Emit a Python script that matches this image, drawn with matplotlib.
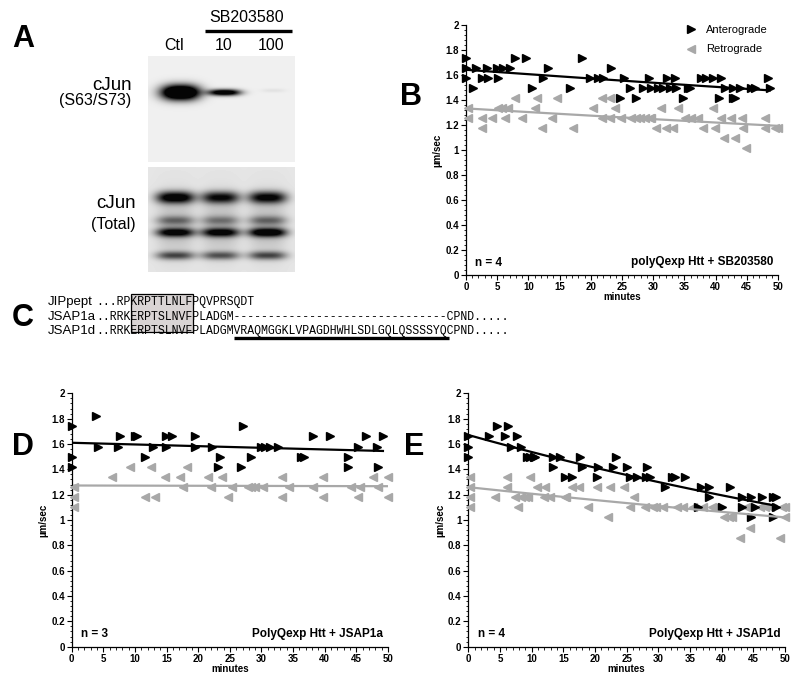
import numpy as np
import matplotlib
matplotlib.use("Agg")
import matplotlib.pyplot as plt
from matplotlib.lines import Line2D
from matplotlib.patches import Rectangle
from matplotlib.ticker import MultipleLocator

plt.rcParams["font.family"] = ["Liberation Sans", "DejaVu Sans"]

W, H = 800, 680
ANT_COLOR = "black"
RET_COLOR = "#a8a8a8"

# ---- panel A: western blot band intensities (lanes: Ctl, 10, 100)
BLOT_LANES = ["Ctl", "10", "100"]
PHOSPHO_BANDS = [1.8, 1.3, 0.06]
TOTAL_BANDS = {
    "top": [0.95, 0.8, 0.85],
    "faint": [0.35, 0.3, 0.35],
    "mid": [0.85, 0.85, 0.95],
    "low": [0.55, 0.5, 0.55],
}

# ---- panel C: sequence alignment
SEQ_NAMES = ["JIPpept", "JSAP1a", "JSAP1d"]
SEQ_ROWS = [
    "...RPKRPTTLNLFPQVPRSQDT",
    "..RRKERPTSLNVFPLADGM-------------------------------CPND.....",
    "..RRKERPTSLNVFPLADGMVRAQMGGKLVPAGDHWHLSDLGQLQSSSSYQCPND.....",
]

# ---- panel B: polyQexp Htt + SB203580
B_ANT_T = [0, 0, 0, 1.2, 1.6, 2.5, 3.4, 3.5, 5.0, 5.1, 6.0, 7.0, 7.9, 9.6, 10.6,
           12.4, 13.2, 16.7, 18.6, 19.9, 21.2, 22.0, 23.3, 24.7, 25.3, 26.3, 27.2,
           28.3, 29.4, 29.6, 30.8, 31.6, 32.2, 33.5, 33.6, 34.8, 35.6, 35.9, 37.7,
           38.5, 39.6, 40.6, 40.9, 41.5, 42.8, 43.1, 42.8, 43.9, 45.7, 46.3, 48.4,
           48.7, 32.7]
B_ANT_V = [1.74, 1.66, 1.58, 1.50, 1.66, 1.58, 1.66, 1.58, 1.66, 1.58, 1.66, 1.66,
           1.74, 1.74, 1.50, 1.58, 1.66, 1.50, 1.74, 1.58, 1.58, 1.58, 1.66, 1.42,
           1.58, 1.50, 1.42, 1.50, 1.58, 1.50, 1.50, 1.50, 1.58, 1.58, 1.50, 1.42,
           1.50, 1.50, 1.58, 1.58, 1.58, 1.42, 1.58, 1.50, 1.42, 1.42, 1.50, 1.50,
           1.50, 1.50, 1.58, 1.50, 1.50]
B_RET_T = [0.4, 0.4, 2.6, 2.6, 4.2, 5.2, 5.8, 6.3, 6.8, 7.8, 9.0, 11.1, 11.4, 12.2,
           13.8, 14.6, 17.2, 20.4, 21.8, 21.8, 23.0, 23.1, 23.9, 24.9, 26.5, 27.3,
           27.9, 28.7, 29.5, 29.7, 30.5, 31.2, 32.1, 33.2, 33.9, 35.1, 36.1, 37.2,
           38.0, 39.6, 39.9, 40.9, 41.3, 42.4, 43.1, 44.3, 44.4, 44.8, 47.9, 47.9,
           49.5, 50.0]
B_RET_V = [1.34, 1.26, 1.26, 1.18, 1.26, 1.34, 1.34, 1.26, 1.34, 1.42, 1.26, 1.34,
           1.42, 1.18, 1.26, 1.42, 1.18, 1.34, 1.42, 1.26, 1.26, 1.42, 1.34, 1.26,
           1.26, 1.26, 1.26, 1.26, 1.26, 1.26, 1.18, 1.34, 1.18, 1.18, 1.34, 1.26,
           1.26, 1.26, 1.18, 1.34, 1.18, 1.26, 1.10, 1.26, 1.10, 1.26, 1.18, 1.02,
           1.26, 1.18, 1.18, 1.18]

# ---- panel D: PolyQexp Htt + JSAP1a
D_ANT_T = [0, 0, 0, 3.9, 4.2, 7.3, 7.6, 10.0, 10.4, 11.6, 12.8, 14.9, 14.9, 15.8,
           19.5, 19.5, 22.2, 23.4, 23.2, 27.1, 26.8, 28.4, 30.0, 30.5, 31.3, 32.6,
           36.3, 36.8, 38.2, 40.8, 43.7, 43.7, 45.3, 46.6, 48.2, 48.4, 49.2]
D_ANT_V = [1.74, 1.50, 1.42, 1.82, 1.58, 1.58, 1.66, 1.66, 1.66, 1.50, 1.58, 1.66,
           1.58, 1.66, 1.66, 1.58, 1.58, 1.50, 1.42, 1.74, 1.42, 1.50, 1.58, 1.58,
           1.58, 1.58, 1.50, 1.50, 1.66, 1.66, 1.50, 1.42, 1.58, 1.66, 1.58, 1.42,
           1.66]
D_RET_T = [0.4, 0.4, 0.4, 6.3, 9.2, 11.6, 12.6, 13.2, 14.7, 17.1, 17.6, 18.2, 21.6,
           22.0, 23.7, 24.7, 25.3, 27.9, 28.4, 28.9, 30.3, 33.3, 33.3, 34.4, 38.2,
           39.7, 39.7, 44.2, 45.3, 45.5, 47.6, 48.4, 50.0, 50.0]
D_RET_V = [1.26, 1.18, 1.10, 1.34, 1.42, 1.18, 1.42, 1.18, 1.34, 1.34, 1.26, 1.42,
           1.34, 1.26, 1.34, 1.18, 1.26, 1.26, 1.26, 1.26, 1.26, 1.34, 1.18, 1.26,
           1.26, 1.34, 1.18, 1.26, 1.18, 1.26, 1.34, 1.26, 1.34, 1.18]

# ---- panel E: PolyQexp Htt + JSAP1d
E_ANT_T = [0, 0, 0, 3.3, 4.6, 5.8, 6.3, 6.8, 7.7, 8.3, 9.2, 9.7, 10.3, 10.6, 13.3,
           13.3, 14.5, 15.3, 16.3, 17.6, 17.9, 20.3, 20.4, 22.9, 23.3, 25.0, 25.5,
           26.6, 28.1, 28.2, 28.7, 31.1, 32.1, 32.6, 34.2, 36.8, 38.0, 38.0, 36.3,
           41.3, 40.0, 43.2, 44.7, 46.3, 48.1, 48.6, 44.7, 48.1, 45.3, 48.6, 43.2]
E_ANT_V = [1.66, 1.58, 1.50, 1.66, 1.74, 1.66, 1.74, 1.58, 1.66, 1.58, 1.50, 1.50,
           1.50, 1.50, 1.42, 1.50, 1.50, 1.34, 1.34, 1.50, 1.42, 1.34, 1.42, 1.42,
           1.50, 1.42, 1.34, 1.34, 1.34, 1.42, 1.34, 1.26, 1.34, 1.34, 1.34, 1.26,
           1.26, 1.18, 1.10, 1.26, 1.10, 1.18, 1.18, 1.18, 1.18, 1.18, 1.02, 1.02,
           1.10, 1.10, 1.10]
E_RET_T = [0.3, 0.3, 0.3, 0.3, 4.2, 6.1, 6.1, 7.4, 7.9, 8.3, 8.9, 9.5, 9.7, 10.8,
           11.9, 12.1, 12.9, 15.3, 15.5, 16.3, 17.4, 18.9, 20.3, 22.1, 22.4, 24.6,
           25.5, 26.1, 27.9, 29.2, 29.7, 30.8, 32.9, 33.9, 35.5, 37.1, 38.4, 38.9,
           40.3, 41.1, 41.6, 42.9, 44.5, 43.9, 46.1, 46.8, 47.6, 49.2, 49.5, 50.0,
           50.0]
E_RET_V = [1.34, 1.26, 1.18, 1.10, 1.18, 1.34, 1.26, 1.18, 1.10, 1.18, 1.18, 1.18,
           1.34, 1.26, 1.18, 1.26, 1.18, 1.18, 1.18, 1.26, 1.26, 1.10, 1.26, 1.02,
           1.26, 1.26, 1.10, 1.18, 1.10, 1.10, 1.10, 1.10, 1.10, 1.10, 1.10, 1.10,
           1.10, 1.10, 1.02, 1.02, 1.02, 0.86, 0.94, 1.10, 1.10, 1.10, 1.10, 0.86,
           1.10, 1.02, 1.10]


def px_axes(fig, x0, y0, x1, y1):
    # pixel box (y downwards) -> figure axes
    return fig.add_axes([x0 / W, 1 - y1 / H, (x1 - x0) / W, (y1 - y0) / H])


def exp_fit(t, v):
    t = np.asarray(t, float)
    k, b = np.polyfit(t, np.log(v), 1)
    tt = np.linspace(t.min(), t.max(), 100)
    return tt, np.exp(b + k * tt)


def band(xx, yy, cx, cy, wx, wy, px=2.5):
    return np.exp(-(np.abs(xx - cx) / wx) ** px - ((yy - cy) / wy) ** 2)


def scatter_panel(ax, ant_t, ant_v, ret_t, ret_v, n_text, title, legend=False):
    ax.plot(ret_t, ret_v, ls="none", marker="<", ms=6, color=RET_COLOR,
            mec=RET_COLOR, clip_on=False, zorder=3)
    ax.plot(ant_t, ant_v, ls="none", marker=">", ms=6, color=ANT_COLOR,
            clip_on=False, zorder=3)
    for t, v, c in ((ant_t, ant_v, ANT_COLOR), (ret_t, ret_v, RET_COLOR)):
        tt, vv = exp_fit(t, v)
        ax.plot(tt, vv, color=c, lw=1.6, zorder=4)

    ax.set_xlim(0, 50)
    ax.set_ylim(0, 2)
    for s in ("top", "right"):
        ax.spines[s].set_visible(False)
    for s in ("left", "bottom"):
        ax.spines[s].set_linewidth(0.9)
    xt = np.arange(0, 51, 5)
    yt = np.arange(0, 2.01, 0.2)
    ax.set_xticks(xt)
    ax.set_xticklabels([f"{x:g}" for x in xt], fontweight="bold", fontsize=7)
    ax.set_yticks(yt)
    ax.set_yticklabels([f"{y:g}" for y in np.round(yt, 1)], fontweight="bold",
                       fontsize=7)
    ax.xaxis.set_minor_locator(MultipleLocator(1))
    ax.yaxis.set_minor_locator(MultipleLocator(0.04))
    ax.tick_params(which="major", direction="out", length=3.5, width=0.8, pad=1.5)
    ax.tick_params(which="minor", direction="out", length=1.8, width=0.6)
    ax.set_xlabel("minutes", fontweight="bold", fontsize=7, labelpad=0)
    ax.set_ylabel("\u00b5m/sec", fontweight="bold", fontsize=7, labelpad=2)
    ax.text(0.03, 0.05, n_text, transform=ax.transAxes, fontsize=8.5,
            fontweight="bold", va="center", ha="left")
    ax.text(0.985, 0.05, title, transform=ax.transAxes, fontsize=8.5,
            fontweight="bold", va="center", ha="right")
    if legend:
        handles = [
            Line2D([], [], ls="none", marker=">", ms=6, color=ANT_COLOR),
            Line2D([], [], ls="none", marker="<", ms=6, color=RET_COLOR),
        ]
        ax.legend(handles, ["Anterograde", "Retrograde"], loc="upper right",
                  bbox_to_anchor=(1.0, 1.04), frameon=False, fontsize=8,
                  handlelength=1.0, handletextpad=0.9, labelspacing=0.85)


fig = plt.figure(figsize=(W / 100, H / 100), dpi=100)

# overlay in pixel coordinates for the free text
ov = fig.add_axes([0, 0, 1, 1])
ov.set_xlim(0, W)
ov.set_ylim(H, 0)
ov.axis("off")

# ---- panel A
ov.text(12, 39, "A", fontsize=22, fontweight="bold", va="center", ha="left")
ov.text(247, 18, "SB203580", fontsize=11.5, ha="center", va="center")
ov.plot([205, 292], [31, 31], color="black", lw=2.4, solid_capstyle="butt")
for name, x in zip(BLOT_LANES, [174, 224, 271]):
    ov.text(x, 45, name, fontsize=11.5, ha="center", va="center")
ov.text(132, 86, "cJun", fontsize=13.5, ha="right", va="center")
ov.text(131, 101, "(S63/S73)", fontsize=11.5, ha="right", va="center")
ov.text(136, 203, "cJun", fontsize=13.5, ha="right", va="center")
ov.text(136, 224, "(Total)", fontsize=11.5, ha="right", va="center")

# upper blot (phospho-cJun)
bw, bh = 147, 106
yy, xx = np.mgrid[0:bh, 0:bw].astype(float)
dark = np.zeros_like(xx)
up_geom = [(32, 36, 19, 7.5), (76, 36, 16, 3.2), (125, 34, 12, 2.0)]
for inten, (cx, cy, wx, wy) in zip(PHOSPHO_BANDS, up_geom):
    dark += inten * band(xx, yy, cx, cy, wx, wy)
img = 0.94 * (1 - np.clip(dark, 0, 0.98))
ax_up = px_axes(fig, 148, 56, 148 + bw, 56 + bh)
ax_up.imshow(img, cmap="gray", vmin=0, vmax=1, extent=(0, bw, bh, 0),
             interpolation="bilinear", aspect="auto")
ax_up.axis("off")

# lower blot (total cJun)
bh2 = 105
yy, xx = np.mgrid[0:bh2, 0:bw].astype(float)
dark = np.zeros_like(xx)
lane_x = [27, 72, 119]
row_geom = {"top": (30, 6.0), "faint": (53, 4.5), "mid": (65, 4.5), "low": (88, 4.2)}
for key, (cy, wy) in row_geom.items():
    for inten, cx in zip(TOTAL_BANDS[key], lane_x):
        dark += 1.2 * inten * band(xx, yy, cx, cy, 19, wy, px=3)
for cx in lane_x:
    dark += 0.18 * band(xx, yy, cx, 58, 19, 30, px=3)
img2 = 0.90 * (1 - np.clip(dark, 0, 0.97))
ax_lo = px_axes(fig, 148, 167, 148 + bw, 167 + bh2)
ax_lo.imshow(img2, cmap="gray", vmin=0, vmax=1, extent=(0, bw, bh2, 0),
             interpolation="bilinear", aspect="auto")
ax_lo.axis("off")

# ---- panel C
ov.text(12, 318, "C", fontsize=22, fontweight="bold", va="center", ha="left")
char_w = 6.92
seq_x0 = 96
row_y = [302, 317, 331]
ov.add_patch(Rectangle((seq_x0 + 5 * char_w, 294), 9 * char_w, 38,
                       facecolor="#d9d4d4", edgecolor="black", lw=0.9, zorder=1))
for name, seq, y in zip(SEQ_NAMES, SEQ_ROWS, row_y):
    ov.text(48, y, name, fontsize=9.5, ha="left", va="center", zorder=2)
    ov.text(seq_x0, y, seq, fontsize=8.3, family="Liberation Mono",
            ha="left", va="center", zorder=2)
ov.plot([seq_x0 + 20 * char_w, seq_x0 + 51 * char_w], [337.5, 337.5],
        color="black", lw=2.4, solid_capstyle="butt")

# ---- panel letters for scatter plots
ov.text(400, 97, "B", fontsize=22, fontweight="bold", va="center", ha="left")
ov.text(12, 447, "D", fontsize=22, fontweight="bold", va="center", ha="left")
ov.text(404, 447, "E", fontsize=22, fontweight="bold", va="center", ha="left")

ax_b = px_axes(fig, 466, 25, 778, 275)
scatter_panel(ax_b, B_ANT_T, B_ANT_V, B_RET_T, B_RET_V, "n = 4",
              "polyQexp Htt + SB203580", legend=True)
ax_d = px_axes(fig, 71.7, 393.3, 388, 646.7)
scatter_panel(ax_d, D_ANT_T, D_ANT_V, D_RET_T, D_RET_V, "n = 3",
              "PolyQexp Htt + JSAP1a")
ax_e = px_axes(fig, 468.3, 393.3, 785, 646.7)
scatter_panel(ax_e, E_ANT_T, E_ANT_V, E_RET_T, E_RET_V, "n = 4",
              "PolyQexp Htt + JSAP1d")

fig.savefig("out.png", dpi=100)
